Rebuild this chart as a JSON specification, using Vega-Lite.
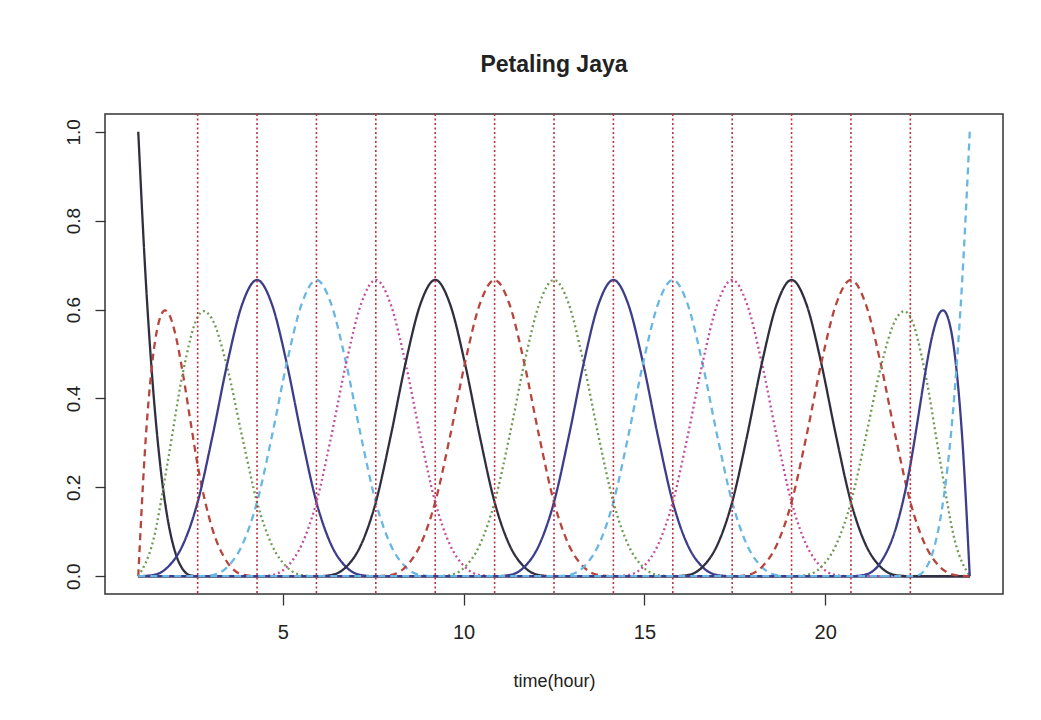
{
  "$schema": "https://vega.github.io/schema/vega-lite/v6.json",
  "width": 898,
  "height": 480,
  "autosize": {"type": "none"},
  "padding": {"left": 105, "top": 114, "right": 38, "bottom": 126},
  "background": "white",
  "config": {
    "font": "Liberation Sans",
    "view": {"stroke": "#333333", "strokeWidth": 1.5},
    "axis": {"grid": false, "domain": false, "tickColor": "#333333", "tickWidth": 1.3, "labelColor": "#222222", "titleColor": "#222222"}
  },
  "title": {"text": "Petaling Jaya", "fontSize": 23, "fontWeight": "bold", "color": "#222222", "anchor": "middle", "baseline": "alphabetic", "offset": 18},
  "encoding": {
    "x": {"field": "x", "type": "quantitative", "scale": {"domain": [0.08, 24.92], "nice": false, "zero": false},
      "axis": {"values": [5, 10, 15, 20], "tickSize": 11, "labelFontSize": 20, "labelPadding": 17, "title": "time(hour)", "titleFontSize": 18, "titleFontWeight": "normal", "titlePadding": 30}}
  },
  "layer": [
    {
      "data": {"values": [
        {"b":1,"x":1,"y":1},{"b":1,"x":1.205357,"y":0.669922},{"b":1,"x":1.410714,"y":0.421875},{"b":1,"x":1.616071,"y":0.244141},{"b":1,"x":1.821429,"y":0.125},{"b":1,"x":2.026786,"y":0.052734},{"b":1,"x":2.232143,"y":0.015625},{"b":1,"x":2.4375,"y":0.001953},{"b":1,"x":2.642857,"y":0},{"b":1,"x":24,"y":0},
        {"b":2,"x":1,"y":0},{"b":2,"x":1.205357,"y":0.308105},{"b":2,"x":1.410714,"y":0.496094},{"b":2,"x":1.616071,"y":0.584473},{"b":2,"x":1.739286,"y":0.598219},{"b":2,"x":1.821429,"y":0.59375},{"b":2,"x":2.026786,"y":0.544434},{"b":2,"x":2.232143,"y":0.457031},{"b":2,"x":2.4375,"y":0.352051},{"b":2,"x":2.642857,"y":0.25},{"b":2,"x":3.053571,"y":0.105469},{"b":2,"x":3.464286,"y":0.03125},{"b":2,"x":3.875,"y":0.003906},{"b":2,"x":4.285714,"y":0},{"b":2,"x":24,"y":0},
        {"b":3,"x":1,"y":0},{"b":3,"x":1.410714,"y":0.079427},{"b":3,"x":1.821429,"y":0.260417},{"b":3,"x":2.232143,"y":0.457031},{"b":3,"x":2.642857,"y":0.583333},{"b":3,"x":2.807143,"y":0.596417},{"b":3,"x":3.053571,"y":0.576823},{"b":3,"x":3.464286,"y":0.46875},{"b":3,"x":3.875,"y":0.313802},{"b":3,"x":4.285714,"y":0.166667},{"b":3,"x":4.696429,"y":0.070313},{"b":3,"x":5.107143,"y":0.020833},{"b":3,"x":5.517857,"y":0.002604},{"b":3,"x":5.928571,"y":0},{"b":3,"x":24,"y":0},
        {"b":4,"x":1,"y":0},{"b":4,"x":1.410714,"y":0.002604},{"b":4,"x":1.821429,"y":0.020833},{"b":4,"x":2.232143,"y":0.070313},{"b":4,"x":2.642857,"y":0.166667},{"b":4,"x":3.053571,"y":0.315104},{"b":4,"x":3.464286,"y":0.479167},{"b":4,"x":3.875,"y":0.611979},{"b":4,"x":4.285714,"y":0.666667},{"b":4,"x":4.696429,"y":0.611979},{"b":4,"x":5.107143,"y":0.479167},{"b":4,"x":5.517857,"y":0.315104},{"b":4,"x":5.928571,"y":0.166667},{"b":4,"x":6.339286,"y":0.070313},{"b":4,"x":6.75,"y":0.020833},{"b":4,"x":7.160714,"y":0.002604},{"b":4,"x":7.571429,"y":0},{"b":4,"x":24,"y":0},
        {"b":5,"x":1,"y":0},{"b":5,"x":2.642857,"y":0},{"b":5,"x":3.053571,"y":0.002604},{"b":5,"x":3.464286,"y":0.020833},{"b":5,"x":3.875,"y":0.070313},{"b":5,"x":4.285714,"y":0.166667},{"b":5,"x":4.696429,"y":0.315104},{"b":5,"x":5.107143,"y":0.479167},{"b":5,"x":5.517857,"y":0.611979},{"b":5,"x":5.928571,"y":0.666667},{"b":5,"x":6.339286,"y":0.611979},{"b":5,"x":6.75,"y":0.479167},{"b":5,"x":7.160714,"y":0.315104},{"b":5,"x":7.571429,"y":0.166667},{"b":5,"x":7.982143,"y":0.070313},{"b":5,"x":8.392857,"y":0.020833},{"b":5,"x":8.803571,"y":0.002604},{"b":5,"x":9.214286,"y":0},{"b":5,"x":24,"y":0},
        {"b":6,"x":1,"y":0},{"b":6,"x":4.285714,"y":0},{"b":6,"x":4.696429,"y":0.002604},{"b":6,"x":5.107143,"y":0.020833},{"b":6,"x":5.517857,"y":0.070313},{"b":6,"x":5.928571,"y":0.166667},{"b":6,"x":6.339286,"y":0.315104},{"b":6,"x":6.75,"y":0.479167},{"b":6,"x":7.160714,"y":0.611979},{"b":6,"x":7.571429,"y":0.666667},{"b":6,"x":7.982143,"y":0.611979},{"b":6,"x":8.392857,"y":0.479167},{"b":6,"x":8.803571,"y":0.315104},{"b":6,"x":9.214286,"y":0.166667},{"b":6,"x":9.625,"y":0.070313},{"b":6,"x":10.035714,"y":0.020833},{"b":6,"x":10.446429,"y":0.002604},{"b":6,"x":10.857143,"y":0},{"b":6,"x":24,"y":0},
        {"b":7,"x":1,"y":0},{"b":7,"x":5.928571,"y":0},{"b":7,"x":6.339286,"y":0.002604},{"b":7,"x":6.75,"y":0.020833},{"b":7,"x":7.160714,"y":0.070313},{"b":7,"x":7.571429,"y":0.166667},{"b":7,"x":7.982143,"y":0.315104},{"b":7,"x":8.392857,"y":0.479167},{"b":7,"x":8.803571,"y":0.611979},{"b":7,"x":9.214286,"y":0.666667},{"b":7,"x":9.625,"y":0.611979},{"b":7,"x":10.035714,"y":0.479167},{"b":7,"x":10.446429,"y":0.315104},{"b":7,"x":10.857143,"y":0.166667},{"b":7,"x":11.267857,"y":0.070313},{"b":7,"x":11.678571,"y":0.020833},{"b":7,"x":12.089286,"y":0.002604},{"b":7,"x":12.5,"y":0},{"b":7,"x":24,"y":0},
        {"b":8,"x":1,"y":0},{"b":8,"x":7.571429,"y":0},{"b":8,"x":7.982143,"y":0.002604},{"b":8,"x":8.392857,"y":0.020833},{"b":8,"x":8.803571,"y":0.070313},{"b":8,"x":9.214286,"y":0.166667},{"b":8,"x":9.625,"y":0.315104},{"b":8,"x":10.035714,"y":0.479167},{"b":8,"x":10.446429,"y":0.611979},{"b":8,"x":10.857143,"y":0.666667},{"b":8,"x":11.267857,"y":0.611979},{"b":8,"x":11.678571,"y":0.479167},{"b":8,"x":12.089286,"y":0.315104},{"b":8,"x":12.5,"y":0.166667},{"b":8,"x":12.910714,"y":0.070313},{"b":8,"x":13.321429,"y":0.020833},{"b":8,"x":13.732143,"y":0.002604},{"b":8,"x":14.142857,"y":0},{"b":8,"x":24,"y":0},
        {"b":9,"x":1,"y":0},{"b":9,"x":9.214286,"y":0},{"b":9,"x":9.625,"y":0.002604},{"b":9,"x":10.035714,"y":0.020833},{"b":9,"x":10.446429,"y":0.070313},{"b":9,"x":10.857143,"y":0.166667},{"b":9,"x":11.267857,"y":0.315104},{"b":9,"x":11.678571,"y":0.479167},{"b":9,"x":12.089286,"y":0.611979},{"b":9,"x":12.5,"y":0.666667},{"b":9,"x":12.910714,"y":0.611979},{"b":9,"x":13.321429,"y":0.479167},{"b":9,"x":13.732143,"y":0.315104},{"b":9,"x":14.142857,"y":0.166667},{"b":9,"x":14.553571,"y":0.070313},{"b":9,"x":14.964286,"y":0.020833},{"b":9,"x":15.375,"y":0.002604},{"b":9,"x":15.785714,"y":0},{"b":9,"x":24,"y":0},
        {"b":10,"x":1,"y":0},{"b":10,"x":10.857143,"y":0},{"b":10,"x":11.267857,"y":0.002604},{"b":10,"x":11.678571,"y":0.020833},{"b":10,"x":12.089286,"y":0.070313},{"b":10,"x":12.5,"y":0.166667},{"b":10,"x":12.910714,"y":0.315104},{"b":10,"x":13.321429,"y":0.479167},{"b":10,"x":13.732143,"y":0.611979},{"b":10,"x":14.142857,"y":0.666667},{"b":10,"x":14.553571,"y":0.611979},{"b":10,"x":14.964286,"y":0.479167},{"b":10,"x":15.375,"y":0.315104},{"b":10,"x":15.785714,"y":0.166667},{"b":10,"x":16.196429,"y":0.070313},{"b":10,"x":16.607143,"y":0.020833},{"b":10,"x":17.017857,"y":0.002604},{"b":10,"x":17.428571,"y":0},{"b":10,"x":24,"y":0},
        {"b":11,"x":1,"y":0},{"b":11,"x":12.5,"y":0},{"b":11,"x":12.910714,"y":0.002604},{"b":11,"x":13.321429,"y":0.020833},{"b":11,"x":13.732143,"y":0.070313},{"b":11,"x":14.142857,"y":0.166667},{"b":11,"x":14.553571,"y":0.315104},{"b":11,"x":14.964286,"y":0.479167},{"b":11,"x":15.375,"y":0.611979},{"b":11,"x":15.785714,"y":0.666667},{"b":11,"x":16.196429,"y":0.611979},{"b":11,"x":16.607143,"y":0.479167},{"b":11,"x":17.017857,"y":0.315104},{"b":11,"x":17.428571,"y":0.166667},{"b":11,"x":17.839286,"y":0.070313},{"b":11,"x":18.25,"y":0.020833},{"b":11,"x":18.660714,"y":0.002604},{"b":11,"x":19.071429,"y":0},{"b":11,"x":24,"y":0},
        {"b":12,"x":1,"y":0},{"b":12,"x":14.142857,"y":0},{"b":12,"x":14.553571,"y":0.002604},{"b":12,"x":14.964286,"y":0.020833},{"b":12,"x":15.375,"y":0.070313},{"b":12,"x":15.785714,"y":0.166667},{"b":12,"x":16.196429,"y":0.315104},{"b":12,"x":16.607143,"y":0.479167},{"b":12,"x":17.017857,"y":0.611979},{"b":12,"x":17.428571,"y":0.666667},{"b":12,"x":17.839286,"y":0.611979},{"b":12,"x":18.25,"y":0.479167},{"b":12,"x":18.660714,"y":0.315104},{"b":12,"x":19.071429,"y":0.166667},{"b":12,"x":19.482143,"y":0.070313},{"b":12,"x":19.892857,"y":0.020833},{"b":12,"x":20.303571,"y":0.002604},{"b":12,"x":20.714286,"y":0},{"b":12,"x":24,"y":0},
        {"b":13,"x":1,"y":0},{"b":13,"x":15.785714,"y":0},{"b":13,"x":16.196429,"y":0.002604},{"b":13,"x":16.607143,"y":0.020833},{"b":13,"x":17.017857,"y":0.070313},{"b":13,"x":17.428571,"y":0.166667},{"b":13,"x":17.839286,"y":0.315104},{"b":13,"x":18.25,"y":0.479167},{"b":13,"x":18.660714,"y":0.611979},{"b":13,"x":19.071429,"y":0.666667},{"b":13,"x":19.482143,"y":0.611979},{"b":13,"x":19.892857,"y":0.479167},{"b":13,"x":20.303571,"y":0.315104},{"b":13,"x":20.714286,"y":0.166667},{"b":13,"x":21.125,"y":0.070313},{"b":13,"x":21.535714,"y":0.020833},{"b":13,"x":21.946429,"y":0.002604},{"b":13,"x":22.357143,"y":0},{"b":13,"x":24,"y":0},
        {"b":14,"x":1,"y":0},{"b":14,"x":17.428571,"y":0},{"b":14,"x":17.839286,"y":0.002604},{"b":14,"x":18.25,"y":0.020833},{"b":14,"x":18.660714,"y":0.070313},{"b":14,"x":19.071429,"y":0.166667},{"b":14,"x":19.482143,"y":0.315104},{"b":14,"x":19.892857,"y":0.479167},{"b":14,"x":20.303571,"y":0.611979},{"b":14,"x":20.714286,"y":0.666667},{"b":14,"x":21.125,"y":0.611979},{"b":14,"x":21.535714,"y":0.479167},{"b":14,"x":21.946429,"y":0.315104},{"b":14,"x":22.357143,"y":0.166667},{"b":14,"x":22.767857,"y":0.070313},{"b":14,"x":23.178571,"y":0.020833},{"b":14,"x":23.589286,"y":0.002604},{"b":14,"x":24,"y":0},
        {"b":15,"x":1,"y":0},{"b":15,"x":19.071429,"y":0},{"b":15,"x":19.482143,"y":0.002604},{"b":15,"x":19.892857,"y":0.020833},{"b":15,"x":20.303571,"y":0.070313},{"b":15,"x":20.714286,"y":0.166667},{"b":15,"x":21.125,"y":0.313802},{"b":15,"x":21.535714,"y":0.46875},{"b":15,"x":21.946429,"y":0.576823},{"b":15,"x":22.192857,"y":0.596417},{"b":15,"x":22.357143,"y":0.583333},{"b":15,"x":22.767857,"y":0.457031},{"b":15,"x":23.178571,"y":0.260417},{"b":15,"x":23.589286,"y":0.079427},{"b":15,"x":24,"y":0},
        {"b":16,"x":1,"y":0},{"b":16,"x":20.714286,"y":0},{"b":16,"x":21.125,"y":0.003906},{"b":16,"x":21.535714,"y":0.03125},{"b":16,"x":21.946429,"y":0.105469},{"b":16,"x":22.357143,"y":0.25},{"b":16,"x":22.5625,"y":0.352051},{"b":16,"x":22.767857,"y":0.457031},{"b":16,"x":22.973214,"y":0.544434},{"b":16,"x":23.178571,"y":0.59375},{"b":16,"x":23.260714,"y":0.598219},{"b":16,"x":23.383929,"y":0.584473},{"b":16,"x":23.589286,"y":0.496094},{"b":16,"x":23.794643,"y":0.308105},{"b":16,"x":24,"y":0},
        {"b":17,"x":1,"y":0},{"b":17,"x":22.357143,"y":0},{"b":17,"x":22.5625,"y":0.001953},{"b":17,"x":22.767857,"y":0.015625},{"b":17,"x":22.973214,"y":0.052734},{"b":17,"x":23.178571,"y":0.125},{"b":17,"x":23.383929,"y":0.244141},{"b":17,"x":23.589286,"y":0.421875},{"b":17,"x":23.794643,"y":0.669922},{"b":17,"x":24,"y":1}
      ]},
      "mark": {"type": "line", "interpolate": "monotone", "strokeWidth": 2.3},
      "encoding": {
        "y": {"field": "y", "type": "quantitative", "scale": {"domain": [-0.04, 1.04], "nice": false, "zero": false},
          "axis": {"values": [0, 0.2, 0.4, 0.6, 0.8, 1], "format": ".1f", "labelAngle": -90, "labelAlign": "center", "labelBaseline": "bottom", "labelFontSize": 19, "tickSize": 10, "labelPadding": 12, "title": null}},
        "color": {"field": "b", "type": "nominal", "legend": null,
          "scale": {"domain": [1,2,3,4,5,6,7,8,9,10,11,12,13,14,15,16,17],
            "range": ["#2f2f3f","#b8443c","#6e9a52","#3d3d8a","#68b6e4","#c14d9c","#2f2f3f","#b8443c","#6e9a52","#3d3d8a","#68b6e4","#c14d9c","#2f2f3f","#b8443c","#6e9a52","#3d3d8a","#68b6e4"]}},
        "strokeDash": {"field": "b", "type": "nominal", "legend": null,
          "scale": {"domain": [1,2,3,4,5,6,7,8,9,10,11,12,13,14,15,16,17],
            "range": [[1,0],[7,5],[2,3],[1,0],[7,5],[2,3],[1,0],[7,5],[2,3],[1,0],[7,5],[2,3],[1,0],[7,5],[2,3],[1,0],[7,5]]}}
      }
    },
    {
      "data": {"values": [
        {"x": 2.642857},{"x": 4.285714},{"x": 5.928571},{"x": 7.571429},{"x": 9.214286},{"x": 10.857143},{"x": 12.5},{"x": 14.142857},{"x": 15.785714},{"x": 17.428571},{"x": 19.071429},{"x": 20.714286},{"x": 22.357143}
      ]},
      "mark": {"type": "rule", "color": "#b5343f", "strokeWidth": 1.6, "strokeDash": [2, 2.5]},
      "encoding": {}
    }
  ]
}
